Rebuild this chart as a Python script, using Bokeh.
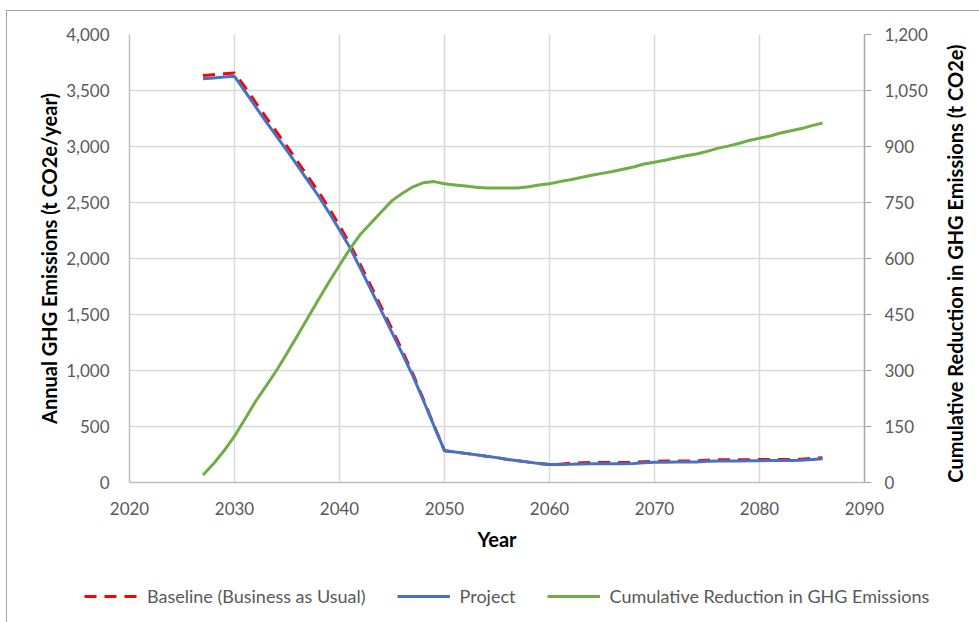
import math

from bokeh.plotting import figure
from bokeh.layouts import column, row
from bokeh.models import (Range1d, LinearAxis, FixedTicker, NumeralTickFormatter,
                          Legend, LegendItem, Label)
from bokeh.embed import file_html
from bokeh.resources import INLINE

# ---- data -------------------------------------------------------------
years = list(range(2027, 2087))

baseline = [3633, 3641, 3649, 3657, 3530, 3395, 3261, 3131, 3001, 2866,
            2731, 2596, 2448, 2293, 2127, 1942, 1752, 1562, 1370, 1171,
            968, 740, 509, 284, 272, 260, 248, 234, 222, 206,
            194, 182, 170, 160, 164, 172, 176, 178, 178, 178,
            178, 180, 186, 190, 191, 192, 192, 193, 199, 202,
            203, 203, 204, 205, 206, 206, 206, 208, 215, 222]

project = [3604, 3612, 3620, 3627, 3492, 3357, 3223, 3093, 2963, 2828,
           2693, 2558, 2410, 2255, 2095, 1910, 1720, 1530, 1338, 1146,
           950, 730, 505, 284, 272, 260, 248, 234, 222, 206,
           194, 182, 170, 160, 160, 162, 166, 168, 168, 168,
           168, 170, 176, 180, 181, 182, 182, 183, 189, 192,
           193, 193, 194, 195, 196, 196, 196, 198, 205, 212]

cumulative = [20, 50, 85, 124, 170, 217, 258, 300, 346, 394,
              442, 490, 537, 582, 626, 665, 695, 725, 755, 775,
              792, 803, 806, 800, 797, 794, 791, 789, 789, 789,
              789, 792, 797, 800, 806, 811, 817, 823, 828, 833,
              839, 845, 853, 858, 863, 869, 875, 880, 887, 895,
              901, 908, 916, 922, 928, 936, 942, 948, 956, 963]

x_ticks = [2020, 2030, 2040, 2050, 2060, 2070, 2080, 2090]
left_ticks = [0, 500, 1000, 1500, 2000, 2500, 3000, 3500, 4000]
right_ticks = [0, 150, 300, 450, 600, 750, 900, 1050, 1200]

series_names = ["Baseline (Business as Usual)", "Project",
                "Cumulative Reduction in GHG Emissions"]
left_title = "Annual GHG Emissions (t CO2e/year)"
right_title = "Cumulative Reduction in GHG Emissions (t CO2e)"

FONT = "Lato"
TICK_COLOR = "#595959"
GRID_COLOR = "#d9d9d9"
TICK_SIZE = "17px"
TITLE_SIZE = "20px"
BASE_STYLE = dict(line_color="#ff0000", line_width=3, line_dash="12 8")
PROJ_STYLE = dict(line_color="#4472c4", line_width=3)
CUM_STYLE = dict(line_color="#70ad47", line_width=3)

W_MAIN, W_SIDE, H_MAIN, H_LEG = 933, 39, 559, 52

# ---- main chart -------------------------------------------------------
p = figure(width=W_MAIN, height=H_MAIN, output_backend="svg",
           toolbar_location=None,
           x_range=Range1d(2020, 2090), y_range=Range1d(0, 4000),
           min_border_left=122, min_border_right=76,
           min_border_top=23, min_border_bottom=88,
           background_fill_color="white", border_fill_color="white")
p.outline_line_color = None
p.extra_y_ranges = {"cum": Range1d(0, 1200)}

p.xgrid.ticker = FixedTicker(ticks=x_ticks)
p.ygrid.ticker = FixedTicker(ticks=left_ticks)
for g in (p.xgrid, p.ygrid):
    g.grid_line_color = GRID_COLOR
    g.grid_line_width = 1.5

xa = p.xaxis[0]
xa.ticker = FixedTicker(ticks=x_ticks)
xa.axis_label = "Year"
xa.major_label_standoff = 13
xa.axis_label_standoff = 9

ya = p.yaxis[0]
ya.ticker = FixedTicker(ticks=left_ticks)
ya.formatter = NumeralTickFormatter(format="0,0")
ya.axis_label = left_title
ya.major_label_standoff = 14
ya.axis_label_standoff = 2

ra = LinearAxis(y_range_name="cum", ticker=FixedTicker(ticks=right_ticks),
                formatter=NumeralTickFormatter(format="0,0"))
ra.major_tick_out = 7
ra.major_tick_in = 0
ra.major_tick_line_color = "#a6a6a6"
ra.major_label_standoff = 13
p.add_layout(ra, "right")

for ax in (xa, ya, ra):
    ax.axis_line_color = "#a6a6a6" if ax is ra else "#bfbfbf"
    ax.axis_line_width = 1.5
    ax.minor_tick_line_color = None
    ax.major_label_text_font = FONT
    ax.major_label_text_font_size = TICK_SIZE
    ax.major_label_text_color = TICK_COLOR
    ax.axis_label_text_font = FONT
    ax.axis_label_text_font_size = TITLE_SIZE
    ax.axis_label_text_font_style = "bold"
    ax.axis_label_text_color = "black"
for ax in (xa, ya):
    ax.major_tick_line_color = None

p.line(years, baseline, **BASE_STYLE)
p.line(years, project, **PROJ_STYLE)
p.line(years, cumulative, y_range_name="cum", **CUM_STYLE)

# ---- secondary-axis title, reading bottom to top ------------------------
side = figure(width=W_SIDE, height=H_MAIN, output_backend="svg",
              toolbar_location=None, x_range=Range1d(0, 1), y_range=Range1d(0, 1),
              x_axis_type=None, y_axis_type=None, min_border=0,
              frame_align=False, border_fill_color="white",
              background_fill_color="white")
side.outline_line_color = None
side.grid.visible = False
side.add_layout(Label(x=0.37, y=0.549, text=right_title, angle=math.pi / 2,
                      text_align="center", text_baseline="middle",
                      text_font=FONT, text_font_size=TITLE_SIZE,
                      text_font_style="bold", text_color="black"))

# ---- legend strip under the chart ---------------------------------------
leg = figure(width=W_MAIN + W_SIDE, height=H_LEG, output_backend="svg",
             toolbar_location=None,
             x_range=Range1d(0, 1), y_range=Range1d(0, 1),
             x_axis_type=None, y_axis_type=None,
             min_border=0, frame_align=False, border_fill_color="white",
             background_fill_color="white")
leg.outline_line_color = None
leg.grid.visible = False

nan = float("nan")
keys = [leg.line([nan], [nan], **BASE_STYLE),
        leg.line([nan], [nan], **PROJ_STYLE),
        leg.line([nan], [nan], **CUM_STYLE)]

legend = Legend(items=[LegendItem(label=n, renderers=[r])
                       for n, r in zip(series_names, keys)],
                orientation="horizontal", location=(77, 15))
legend.glyph_width = 53
legend.glyph_height = 20
legend.label_standoff = 10
legend.spacing = 31
legend.padding = 0
legend.margin = 0
legend.border_line_color = None
legend.background_fill_alpha = 0
legend.label_text_font = FONT
legend.label_text_font_size = "18px"
legend.label_text_color = TICK_COLOR
leg.add_layout(legend, "center")

# chart area with a thin frame on its top and left edges
page = column(row(p, side, spacing=0), leg, spacing=0, margin=(10, 0, 0, 6),
              styles={"border-top": "1px solid #a6a6a6",
                      "border-left": "1px solid #a6a6a6"})

open("out.html", "w").write(file_html(page, INLINE))
